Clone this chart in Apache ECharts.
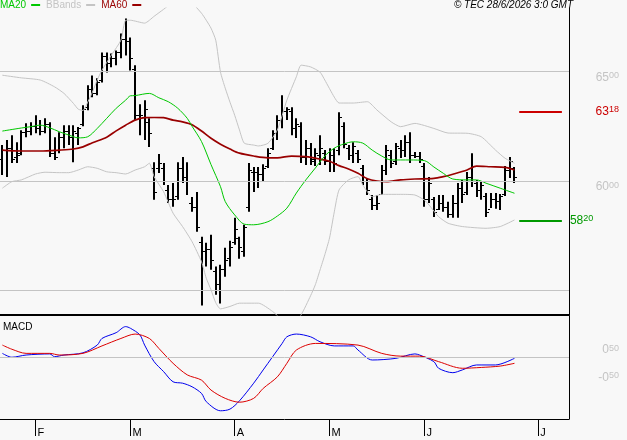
<!DOCTYPE html>
<html lang="en">

<head>
    <meta charset="UTF-8">
    <title>MA / BBands / MACD</title>
    <script src="https://cdn.jsdelivr.net/npm/echarts/dist/echarts.min.js"></script>
    <style>
        body { margin: 0; background: #f8f8f8; }
    </style>
</head>

<body>
    <div id="main" style="width:627px;height:440px"></div>
    <script>
        // daily bars, index 0..108
        var openVals = [6100, 6140, 6150, 6110, 6130, 6225, 6230, 6250, 6240, 6230,
            6260, 6130, 6140, 6200, 6230, 6200, 6220, 6260, 6340, 6420,
            6400, 6460, 6570, 6540, 6560, 6590, 6650, 6640, 6510, 6300,
            6290, 6270, 6060, 6060, 6060, 5960, 5920, 5930, 6060, 6020,
            5900, 5880, 5720, 5680, 5690, 5590, 5530, 5600, 5650, 5720,
            5740, 5680, 5880, 6040, 6040, 6030, 6070, 6150, 6220, 6280,
            6320, 6320, 6240, 6250, 6110, 6150, 6100, 6120, 6130, 6090,
            6120, 6140, 6250, 6150, 6120, 6130, 6060, 6000, 5920, 5890,
            5940, 6050, 6120, 6090, 6150, 6140, 6180, 6120, 6115, 6070,
            5920, 5920, 5870, 5900, 5880, 5850, 5900, 5970, 5950, 6020,
            5990, 5960, 5930, 5870, 5920, 5910, 5940, 6050, 6060];
        var highVals = [6164, 6187, 6209, 6177, 6232, 6264, 6268, 6300, 6278, 6287,
            6268, 6200, 6223, 6255, 6255, 6255, 6246, 6346, 6437, 6482,
            6469, 6587, 6587, 6582, 6596, 6673, 6742, 6655, 6528, 6350,
            6369, 6287, 6086, 6123, 6082, 5982, 5991, 6086, 6109, 6086,
            5927, 5950, 5745, 5718, 5754, 5609, 5618, 5695, 5727, 5832,
            5745, 5800, 6082, 6064, 6064, 6077, 6150, 6232, 6300, 6391,
            6337, 6337, 6287, 6268, 6187, 6173, 6150, 6209, 6141, 6150,
            6150, 6314, 6268, 6164, 6177, 6141, 6073, 6014, 5936, 5936,
            6073, 6164, 6141, 6173, 6187, 6209, 6223, 6132, 6132, 6082,
            6018, 5927, 5936, 5936, 5905, 5936, 5991, 6005, 6041, 6127,
            6005, 5995, 5945, 5945, 5945, 5941, 6068, 6109, 6064];
        var lowVals = [6027, 6018, 6082, 6082, 6118, 6200, 6209, 6218, 6209, 6218,
            6109, 6096, 6127, 6150, 6164, 6086, 6164, 6250, 6323, 6382,
            6391, 6450, 6496, 6519, 6528, 6560, 6573, 6505, 6278, 6209,
            6187, 6155, 5914, 6036, 5982, 5900, 5882, 5914, 5991, 5936,
            5859, 5768, 5431, 5609, 5595, 5481, 5440, 5563, 5609, 5709,
            5645, 5654, 5859, 5950, 5968, 5995, 6059, 6141, 6187, 6241,
            6278, 6209, 6196, 6082, 6073, 6073, 6068, 6073, 6073, 6041,
            6041, 6118, 6150, 6096, 6082, 6082, 5982, 5936, 5868, 5868,
            5936, 6027, 6059, 6073, 6105, 6109, 6082, 6105, 6082, 5882,
            5900, 5836, 5868, 5859, 5832, 5832, 5832, 5900, 5936, 5973,
            5927, 5914, 5836, 5877, 5873, 5868, 5932, 6014, 5991];
        var closeVals = [6140, 6150, 6100, 6120, 6225, 6230, 6250, 6240, 6230, 6260,
            6130, 6110, 6200, 6230, 6200, 6230, 6240, 6330, 6420, 6400,
            6450, 6570, 6540, 6560, 6590, 6650, 6640, 6560, 6300, 6300,
            6330, 6220, 5950, 6080, 6000, 5920, 5920, 6060, 6020, 6000,
            5880, 5790, 5680, 5690, 5640, 5530, 5600, 5640, 5700, 5780,
            5700, 5790, 6050, 6040, 6030, 6060, 6130, 6220, 6280, 6320,
            6330, 6240, 6260, 6110, 6150, 6090, 6130, 6150, 6090, 6120,
            6080, 6290, 6170, 6120, 6160, 6100, 6000, 5960, 5890, 5900,
            6050, 6140, 6080, 6160, 6140, 6180, 6120, 6115, 6100, 5920,
            5990, 5860, 5900, 5880, 5850, 5900, 5970, 5940, 6020, 6000,
            5960, 5980, 5860, 5920, 5910, 5930, 6050, 6090, 6020];

        // indicator lines: [bar index, value]
        var ma20Pts = [[0, 6228], [4, 6242], [6, 6248], [8, 6255], [10, 6243], [12, 6225], [14, 6210], [16, 6197],
            [18, 6202], [20, 6240], [22, 6286], [24, 6332], [26, 6369], [27, 6389], [28, 6390], [31, 6400], [33, 6380],
            [35, 6362], [37, 6332], [39, 6286], [40, 6250], [42, 6180], [44, 6075], [46, 5974], [47, 5906], [49, 5845],
            [51, 5803], [53, 5800], [56, 5814], [58, 5840], [60, 5876], [62, 5945], [64, 6005], [66, 6059], [68, 6114],
            [70, 6150], [72, 6169], [74, 6179], [76, 6173], [78, 6141], [80, 6114], [82, 6096], [86, 6096], [89, 6093],
            [91, 6064], [93, 6035], [95, 6009], [98, 6005], [100, 6005], [102, 5990], [105, 5967], [108, 5944]];
        var ma60Pts = [[0, 6141], [4, 6137], [8, 6137], [12, 6141], [15, 6146], [17, 6156], [19, 6175], [22, 6200],
            [24, 6229], [26, 6255], [28, 6278], [30, 6289], [32, 6290], [34, 6289], [36, 6278], [38, 6270], [40, 6257],
            [42, 6228], [44, 6195], [46, 6168], [48, 6146], [50, 6127], [53, 6114], [56, 6106], [58, 6106], [61, 6114],
            [64, 6111], [67, 6100], [69, 6090], [71, 6070], [73, 6055], [75, 6035], [77, 6010], [79, 6000], [81, 5997],
            [84, 6005], [87, 6009], [91, 6012], [93, 6020], [95, 6031], [98, 6050], [100, 6068], [103, 6065], [106, 6062],
            [108, 6050]];
        var bandUpper = [[0, 6483], [4, 6471], [8, 6461], [11, 6430], [13, 6400], [15, 6354], [16, 6328], [17, 6322],
            [18, 6360], [19, 6406], [20, 6461], [21, 6506], [23, 6575], [25, 6643], [26, 6734], [27, 6734], [30, 6721],
            [32, 6752], [34, 6784], [36, 6816], [38, 6826], [40, 6812], [42, 6766], [43, 6734], [44, 6698], [45, 6643],
            [46, 6497], [47, 6424], [48, 6360], [49, 6300], [50, 6233], [51, 6173], [53, 6164], [54, 6160], [56, 6172],
            [58, 6233], [60, 6369], [62, 6476], [63, 6529], [65, 6521], [67, 6497], [68, 6461], [70, 6383], [71, 6356],
            [74, 6356], [77, 6362], [79, 6324], [82, 6270], [84, 6248], [87, 6263], [91, 6240], [94, 6219], [98, 6218],
            [101, 6202], [104, 6141], [106, 6104], [108, 6081]];
        var bandLower = [[0, 5967], [2, 5997], [4, 6005], [7, 6032], [9, 6040], [12, 6038], [14, 6038], [16, 6050],
            [18, 6065], [20, 6058], [22, 6042], [24, 6038], [26, 6032], [28, 6050], [30, 6065], [31, 6081], [32, 6020],
            [34, 5951], [36, 5853], [38, 5792], [40, 5723], [42, 5631], [43, 5556], [44, 5503], [45, 5444], [46, 5416],
            [48, 5427], [50, 5442], [54, 5442], [57, 5404], [59, 5366], [61, 5343], [63, 5389], [65, 5476], [66, 5526],
            [67, 5594], [68, 5663], [69, 5740], [70, 5859], [71, 5959], [73, 6005], [75, 6020], [76, 5982], [77, 5950],
            [78, 5928], [80, 5939], [84, 5939], [87, 5936], [89, 5913], [90, 5890], [92, 5837], [94, 5807], [97, 5792],
            [102, 5784], [105, 5792], [108, 5822]];
        var macdPts = [[0, 0.15], [2, 0.01], [5, 0.09], [10, 0.13], [11, 0.03], [13, 0.09], [17, 0.17], [20, 0.45],
            [21, 0.69], [24, 0.90], [26, 1.12], [27, 1.06], [29, 0.82], [30, 0.45], [32, -0.15], [34, -0.51], [36, -0.88],
            [38, -0.93], [40, -1.06], [42, -1.30], [43, -1.60], [46, -1.93], [48, -1.87], [50, -1.57], [53, -0.93],
            [55, -0.45], [59, 0.51], [60, 0.75], [62, 0.85], [65, 0.75], [67, 0.57], [70, 0.42], [74, 0.42], [75, 0.27],
            [78, -0.09], [83, -0.03], [87, 0.13], [88, 0.09], [91, -0.15], [92, -0.39], [95, -0.55], [97, -0.45],
            [100, -0.27], [104, -0.27], [108, -0.03]];
        var signalPts = [[0, 0.45], [2, 0.30], [5, 0.15], [10, 0.15], [12, 0.09], [17, 0.15], [21, 0.42], [25, 0.69],
            [28, 0.85], [31, 0.69], [33, 0.33], [36, -0.21], [39, -0.63], [42, -0.82], [44, -1.18], [47, -1.48],
            [50, -1.62], [53, -1.48], [55, -1.12], [58, -0.70], [60, -0.21], [62, 0.27], [66, 0.51], [75, 0.45],
            [80, 0.15], [84, 0.05], [88, 0.05], [92, -0.15], [97, -0.39], [101, -0.36], [105, -0.31], [108, -0.21]];

        var priceGrid = [6500, 6000, 5500];
        var resistLevel = 6318;
        var supportLevel = 5820;
        var macdLabels = [0.5, -0.5];
        var tickIdx = [7, 27, 49, 69, 89, 113];
        var tickLabels = ['F', 'M', 'A', 'M', 'J', 'J'];
        var slots = 120;

        var cats = [];
        for (var i = 0; i < slots; i++) cats.push(String(i));
        var monthOf = {};
        tickIdx.forEach(function (t, k) { monthOf[String(t)] = tickLabels[k]; });

        var ohlc = [];
        for (var j = 0; j < openVals.length; j++) {
            ohlc.push([j, openVals[j], highVals[j], lowVals[j], closeVals[j]]);
        }

        var font = 'Liberation Sans, Arial, sans-serif';
        var grey = '#c4c4c4';

        // "6500" -> big 65, small 00
        function splitPrice(p) {
            var s = String(p.value);
            return '{b|' + s.slice(0, 2) + '}{s|' + s.slice(2) + '}';
        }
        // 0.5 -> big 0, small 50
        function splitMacd(v) {
            var a = Math.abs(v).toFixed(2).split('.');
            return '{b|' + (v < 0 ? '-' : '') + a[0] + '}{s|' + a[1] + '}';
        }
        function rich(color) {
            return {
                b: { fontSize: 12, color: color, fontFamily: font },
                s: { fontSize: 9, color: color, fontFamily: font, verticalAlign: 'top', padding: [0, 0, 3, 0] }
            };
        }

        var myChart = echarts.init(document.getElementById('main'));
        var option = {
            animation: false,
            backgroundColor: '#f8f8f8',
            textStyle: { fontFamily: font },
            title: [{
                text: '\u00a9 TEC 28/6/2026 3:0 GMT',
                right: 54, top: 0, padding: 0,
                textStyle: { fontSize: 10, fontStyle: 'italic', fontWeight: 'normal', color: '#000', fontFamily: font }
            }, {
                text: 'MACD',
                left: 3, top: 322, padding: 0,
                textStyle: { fontSize: 10, fontWeight: 'normal', color: '#000', fontFamily: font }
            }],
            legend: {
                left: 0, top: 0, padding: 0,
                align: 'right',
                icon: 'rect',
                itemWidth: 9, itemHeight: 2, itemGap: 6,
                selectedMode: false,
                textStyle: { fontSize: 10, fontFamily: font },
                data: [
                    { name: 'MA20', textStyle: { color: '#00c800' } },
                    { name: 'BBands', textStyle: { color: grey } },
                    { name: 'MA60', textStyle: { color: '#990000' } }
                ]
            },
            grid: [
                { left: 0, right: 58, top: 8, height: 307, outerBoundsMode: 'none' },
                { left: 0, right: 58, top: 316, height: 103, outerBoundsMode: 'none' }
            ],
            xAxis: [{
                type: 'category', gridIndex: 0, data: cats,
                axisLine: { onZero: false, lineStyle: { color: '#000', width: 2 } },
                axisTick: { show: false }, axisLabel: { show: false }, splitLine: { show: false }
            }, {
                type: 'category', gridIndex: 1, data: cats,
                axisLine: { show: true, onZero: false, lineStyle: { color: '#000', width: 1 } },
                axisTick: {
                    show: true, alignWithLabel: true, length: 17,
                    lineStyle: { color: '#000' },
                    interval: function (idx, val) { return !!monthOf[val]; }
                },
                axisLabel: {
                    interval: function (idx, val) { return !!monthOf[val]; },
                    formatter: function (val) { return monthOf[val] || ''; },
                    align: 'left', verticalAlign: 'top', margin: 8,
                    padding: [0, 0, 0, 2],
                    color: '#000', fontSize: 11, fontFamily: font
                },
                splitLine: { show: false }
            }],
            yAxis: [{
                type: 'value', gridIndex: 0, position: 'right',
                min: 5388, max: 6790,
                axisLine: { show: true, lineStyle: { color: '#000' } },
                axisTick: { show: false }, axisLabel: { show: false }, splitLine: { show: false }
            }, {
                type: 'value', gridIndex: 1, position: 'right',
                min: -2.228, max: 1.504,
                axisLine: { show: true, lineStyle: { color: '#000' } },
                axisTick: { show: false }, axisLabel: { show: false }, splitLine: { show: false }
            }],
            series: [{
                name: 'BBands', type: 'line', data: bandUpper,
                xAxisIndex: 0, yAxisIndex: 0, symbol: 'none', smooth: 0.2, silent: true,
                color: grey, lineStyle: { color: grey, width: 1 },
                markLine: {
                    silent: true, symbol: 'none',
                    lineStyle: { color: grey, width: 1, type: 'solid' },
                    label: {
                        position: 'end', distance: 50, align: 'right', verticalAlign: 'top',
                        formatter: splitPrice, rich: rich(grey)
                    },
                    data: priceGrid.map(function (p) {
                        return p === 5500 ? { yAxis: p, label: { show: false } } : { yAxis: p };
                    })
                }
            }, {
                name: 'BBands', type: 'line', data: bandLower,
                xAxisIndex: 0, yAxisIndex: 0, symbol: 'none', smooth: 0.2, silent: true,
                color: grey, lineStyle: { color: grey, width: 1 }
            }, {
                name: 'MA60', type: 'line', data: ma60Pts,
                xAxisIndex: 0, yAxisIndex: 0, symbol: 'none', smooth: 0.3, silent: true,
                color: '#990000', lineStyle: { color: '#990000', width: 1.7 },
                markLine: {
                    silent: true, symbol: 'none',
                    lineStyle: { color: '#cc0000', width: 2, type: 'solid' },
                    label: {
                        position: 'end', distance: 57, align: 'right', verticalAlign: 'middle',
                        formatter: splitPrice, rich: rich('#cc0000')
                    },
                    data: [[{ coord: [109, resistLevel], value: resistLevel }, { coord: [118, resistLevel] }]]
                }
            }, {
                name: 'MA20', type: 'line', data: ma20Pts,
                xAxisIndex: 0, yAxisIndex: 0, symbol: 'none', smooth: 0.3, silent: true,
                color: '#00c800', lineStyle: { color: '#00c800', width: 1 },
                markLine: {
                    silent: true, symbol: 'none',
                    lineStyle: { color: '#009900', width: 2, type: 'solid' },
                    label: {
                        position: 'end', distance: 8, align: 'left', verticalAlign: 'middle',
                        formatter: splitPrice, rich: rich('#009900')
                    },
                    data: [[{ coord: [109, supportLevel], value: supportLevel }, { coord: [118, supportLevel] }]]
                }
            }, {
                name: 'Price', type: 'custom', data: ohlc,
                xAxisIndex: 0, yAxisIndex: 0, silent: true, clip: true,
                encode: { x: 0, y: [1, 2, 3, 4] },
                renderItem: function (params, api) {
                    var idx = api.value(0);
                    var x = Math.round(api.coord([idx, api.value(2)])[0]);
                    var yh = api.coord([idx, api.value(2)])[1];
                    var yl = api.coord([idx, api.value(3)])[1];
                    var yo = Math.round(api.coord([idx, api.value(1)])[1]) + 0.5;
                    var yc = Math.round(api.coord([idx, api.value(4)])[1]) + 0.5;
                    var st = { stroke: '#000', lineWidth: 1 };
                    return {
                        type: 'group',
                        children: [
                            { type: 'line', shape: { x1: x, y1: yh, x2: x, y2: yl }, style: { stroke: '#000', lineWidth: 2 } },
                            { type: 'line', shape: { x1: x - 3, y1: yo, x2: x - 1, y2: yo }, style: st },
                            { type: 'line', shape: { x1: x + 1, y1: yc, x2: x + 3, y2: yc }, style: st }
                        ]
                    };
                }
            }, {
                name: 'MACD', type: 'line', data: macdPts,
                xAxisIndex: 1, yAxisIndex: 1, symbol: 'none', smooth: 0.3, silent: true,
                color: '#0000ee', lineStyle: { color: '#0000ee', width: 1 },
                markLine: {
                    silent: true, symbol: 'none',
                    lineStyle: { color: grey, width: 1, type: 'solid' },
                    label: {
                        position: 'end', distance: 50, align: 'right', verticalAlign: 'top',
                        rich: rich(grey)
                    },
                    // zero line, plus label-only rows for +/-0.50
                    data: [{ yAxis: 0, label: { show: false } }].concat(macdLabels.map(function (v) {
                        return {
                            yAxis: v,
                            lineStyle: { color: 'rgba(0,0,0,0)' },
                            label: { formatter: splitMacd(v) }
                        };
                    }))
                }
            }, {
                name: 'Signal', type: 'line', data: signalPts,
                xAxisIndex: 1, yAxisIndex: 1, symbol: 'none', smooth: 0.3, silent: true,
                color: '#dd0000', lineStyle: { color: '#dd0000', width: 1 }
            }]
        };
        myChart.setOption(option);
    </script>
</body>

</html>
